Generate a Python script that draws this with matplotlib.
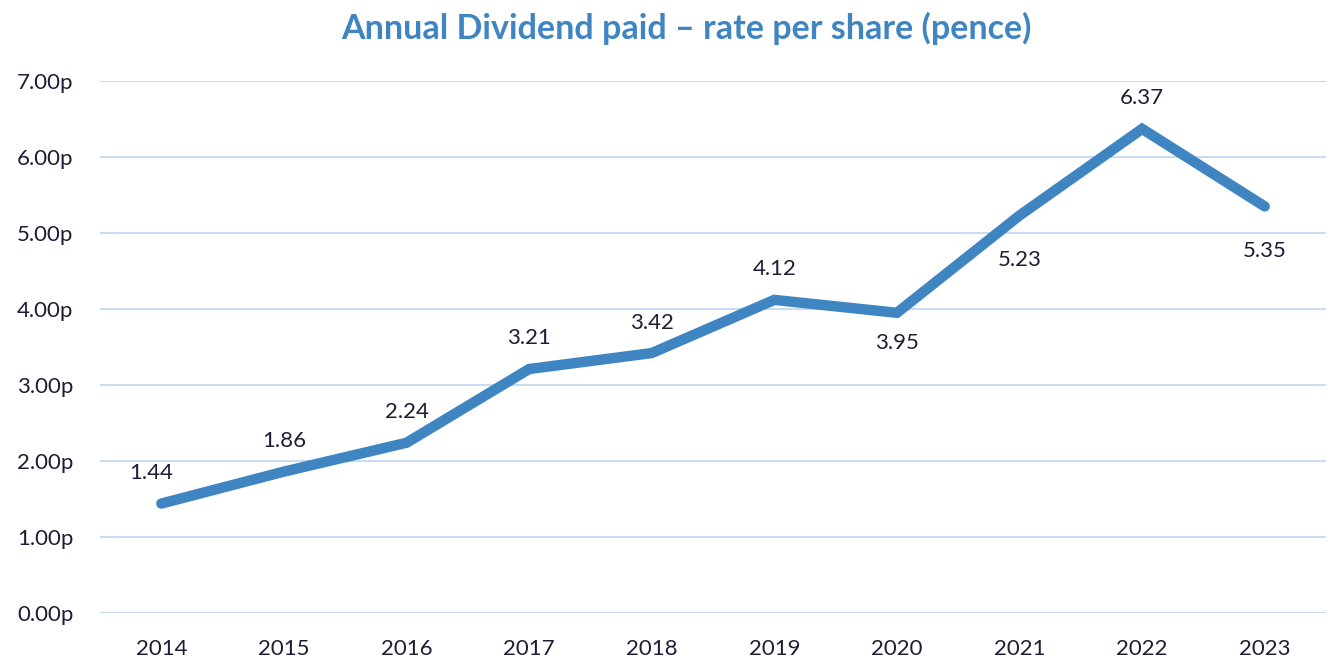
import matplotlib
matplotlib.use("Agg")
import matplotlib.pyplot as plt

years = ["2014", "2015", "2016", "2017", "2018", "2019", "2020", "2021", "2022", "2023"]
dividend = [1.44, 1.86, 2.24, 3.21, 3.42, 4.12, 3.95, 5.23, 6.37, 5.35]
label_side = ["above", "above", "above", "above", "above", "above", "below", "below", "above", "below"]
y_ticks = [0, 1, 2, 3, 4, 5, 6, 7]

plt.rcParams['font.family'] = ['Lato', 'DejaVu Sans']

BLUE = "#3F85C2"
GRID = "#BCD5EE"
TEXT = "#1B1E36"

fig = plt.figure(figsize=(13.3, 6.62), dpi=100)
ax = fig.add_axes([100/1330, 1-613/662, 1226/1330, 532/662])

x = list(range(len(years)))
ax.plot(x, dividend, color=BLUE, linewidth=7.5, solid_capstyle='round', solid_joinstyle='miter', zorder=3)

for xi, v, side in zip(x, dividend, label_side):
    dy = 22 if side == "above" else -22
    if side == "below" and v > 5:
        dy = -32
    ax.annotate(f"{v:.2f}", (xi, v), xytext=(-7 if xi == 0 else 0, dy), textcoords='offset points',
                ha='center', va='center', fontsize=16, color=TEXT)

ax.set_xlim(-0.5, len(years) - 0.5)
ax.set_ylim(0, 7)
ax.set_yticks(y_ticks)
ax.set_yticklabels([f"{t:.2f}p" for t in y_ticks])
ax.set_xticks(x)
ax.set_xticklabels(years)
ax.tick_params(axis='both', length=0, labelsize=16, labelcolor=TEXT)
ax.tick_params(axis='y', pad=19)
ax.tick_params(axis='x', pad=19)
ax.yaxis.grid(True, color=GRID, linewidth=1.2)
ax.set_axisbelow(True)
for s in ax.spines.values():
    s.set_visible(False)

fig.text(686/1330, 1-28/662, "Annual Dividend paid \u2013 rate per share (pence)", ha='center', va='center',
         fontsize=24.5, fontweight='bold', color=BLUE)

fig.savefig("out.png", dpi=100)
